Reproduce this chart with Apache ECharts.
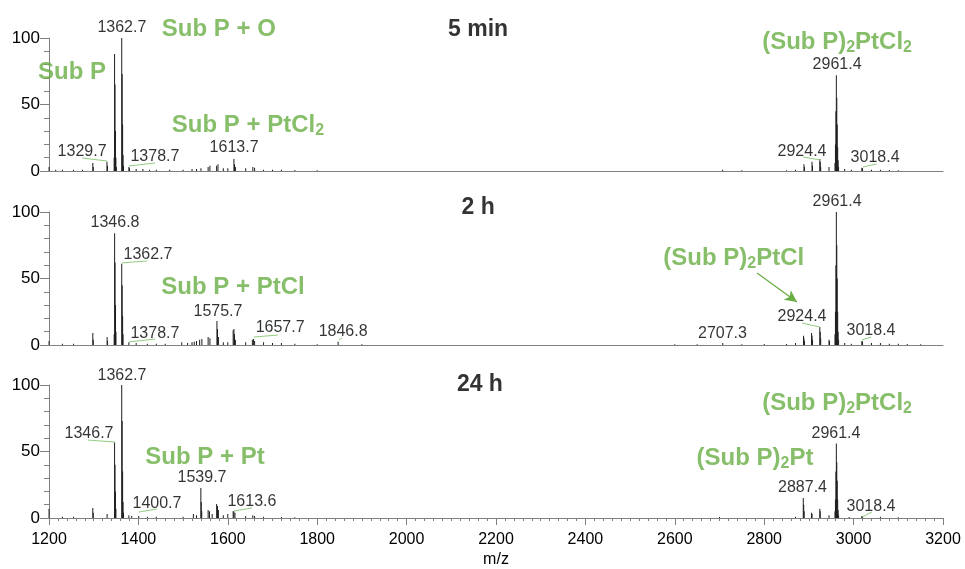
<!DOCTYPE html>
<html><head><meta charset="utf-8">
<script src="https://cdn.jsdelivr.net/npm/echarts@6/dist/echarts.min.js"></script>
<style>html,body{margin:0;padding:0;background:#fff}#c{width:965px;height:569px}</style>
</head><body><div id="c"></div>
<script>
// ---------- data ----------
const mzRange = [1200, 3200];
const mzTickStep = 200;
const intensityRange = [0, 100];
const intensityTickStep = 50;
const axisName = 'm/z';
const panelTitles = ['5 min', '2 h', '24 h'];

// [m/z, relative intensity %]
const peaks5min = [
  [1200,3],[1215,1],[1230,1],[1255,1],[1275,1],
  [1298,6],[1299,3],[1329.7,7],[1330.7,4],
  [1345.7,10],[1346.7,88],[1347.7,65],[1348.7,30],[1349.7,10],[1350.7,3],
  [1362.7,100],[1363.7,73],[1364.7,35],[1365.7,12],[1366.7,4],
  [1378.7,3],[1380,2],[1395,1.5],[1410,1.5],[1425,1],[1440,1],[1470,1],[1500,1],
  [1520,1.5],[1530,1.5],[1540,2],[1556,3],[1560,4],[1575,4],[1578,5],[1590,2],[1600,2],
  [1613.7,9],[1615,5],[1617,3],[1640,2],[1656,3],[1660,2.5],[1680,1],[1700,1],[1720,1],[1750,0.8],[1800,0.5],
  [2707,1],[2750,0.5],[2850,0.5],[2870,1],
  [2889,5],[2890,3],[2907,7],[2908,4],[2924.4,9],[2925.4,7],[2926.4,3],[2945,3],
  [2958.4,6],[2959.4,20],[2960.4,45],[2961.4,72],[2962.4,55],[2963.4,35],[2964.4,18],[2965.4,8],[2966.4,3],
  [2980,1.5],[2995,1],[3018.4,2.5],[3020,2],[3040,1],[3060,1],[3080,0.8],[3100,0.5]
];
const peaks2h = [
  [1200,3],[1230,1],[1255,1],[1298,9],[1299,4],[1330,6],[1331,3],
  [1345.8,8],[1346.8,84],[1347.8,62],[1348.8,30],[1349.8,10],
  [1362.7,61],[1363.7,45],[1364.7,22],[1365.7,8],
  [1378.7,2],[1395,1.5],[1420,1],[1440,1],[1460,1],[1497,2],[1510,1.5],[1520,2],[1525,2.5],[1530,3],
  [1537,4],[1542,4.5],[1556,6],[1560,5],[1575.7,18],[1577,12],[1579,6],[1590,2],[1600,2],
  [1612,11],[1613.7,12],[1615,8],[1617,4],[1640,2],[1655,4],[1657.7,4.5],[1660,3],[1680,2],
  [1700,1.5],[1720,1.5],[1750,1],[1800,0.5],[1846.8,2.5],[1900,0.5],
  [2600,0.5],[2650,0.5],[2707.3,1.5],[2750,0.5],[2800,0.8],[2850,0.8],[2870,1.5],
  [2888,7],[2889,5],[2890,3],[2906,9],[2907,7],[2908,4],[2924.4,13.5],[2925.4,10],[2926.4,5],[2945,4],[2946,3],
  [2958.4,8],[2959.4,25],[2960.4,60],[2961.4,100],[2962.4,75],[2963.4,50],[2964.4,25],[2965.4,10],[2966.4,4],
  [2980,1.5],[2995,1],[3018.4,3],[3020,2.5],[3040,1.5],[3060,1.5],[3080,1],[3100,1],[3120,0.8],[3150,0.5]
];
const peaks24h = [
  [1200,7],[1230,1],[1255,1],[1298,7.5],[1299,4],[1330,3],
  [1346.7,57],[1347.7,40],[1348.7,20],[1349.7,7],
  [1362.7,100],[1363.7,73],[1364.7,35],[1365.7,12],[1366.7,4],
  [1378.7,2],[1385,1.5],[1400.7,1.5],[1420,1],[1440,1],[1500,1],[1523,3],[1530,2],
  [1539.7,22.5],[1540.7,12],[1541.7,5],[1556,6],[1559,5],[1565,3],[1575,10.5],[1577,9],[1579,6],
  [1590,2],[1600,3],[1612,5],[1613.6,5],[1616,4],[1640,1.5],[1656,2],[1660,1.5],[1680,1],[1720,0.8],[1750,0.5],
  [2700,0.8],[2870,1],[2887.4,15],[2888.4,10],[2889.4,5],[2906,4],[2907,3],[2924.4,7],[2925.4,5],[2945,2],
  [2958.4,5],[2959.4,14],[2960.4,35],[2961.4,56],[2962.4,42],[2963.4,28],[2964.4,14],[2965.4,6],[2966.4,2],
  [2990,0.8],[3018.4,1.5],[3020,1.2],[3060,1],[3100,0.5]
];
const spectra = [peaks5min, peaks2h, peaks24h];

// annotation texts (species use ~2~ for subscripts)
const peakLabels5min = ['1362.7','1329.7','1378.7','1613.7','2961.4','2924.4','3018.4'];
const speciesLabels5min = ['Sub P + O','Sub P','Sub P + PtCl~2~','(Sub P)~2~PtCl~2~'];
const peakLabels2h = ['1346.8','1362.7','1575.7','1378.7','1657.7','1846.8','2707.3','2924.4','2961.4','3018.4'];
const speciesLabels2h = ['Sub P + PtCl','(Sub P)~2~PtCl'];
const peakLabels24h = ['1362.7','1346.7','1539.7','1400.7','1613.6','2961.4','2887.4','3018.4'];
const speciesLabels24h = ['Sub P + Pt','(Sub P)~2~PtCl~2~','(Sub P)~2~Pt'];

// ---------- layout of annotations (data coordinates) ----------
const GREEN = '#69ae45';
const LEADER = '#93cc80';
const FONT = '"Liberation Sans", Arial, Helvetica, sans-serif';

const annLayout = [
  [
    {t:panelTitles[0], k:'title', at:[2160,106]},
    {t:peakLabels5min[0], k:'peak', at:[1363,107.5]},
    {t:speciesLabels5min[0], k:'species', at:[1580,106.8]},
    {t:speciesLabels5min[1], k:'species', at:[1251.5,74.4]},
    {t:speciesLabels5min[2], k:'species', at:[1645,34.6]},
    {t:peakLabels5min[1], k:'peak', at:[1274,14.3], leader:[[1274,9.8],[1329.8,7.5]]},
    {t:peakLabels5min[2], k:'peak', at:[1437,10.5], leader:[[1379,3.8],[1437,6.0]]},
    {t:peakLabels5min[3], k:'peak', at:[1614,17.3]},
    {t:speciesLabels5min[3], k:'species', at:[2963,97]},
    {t:peakLabels5min[4], k:'peak', at:[2963,79.7]},
    {t:peakLabels5min[5], k:'peak', at:[2884.6,14.3], leader:[[2886.8,10.5],[2924.8,8.3]]},
    {t:peakLabels5min[6], k:'peak', at:[3048,9.8], leader:[[3021,3.0],[3052,5.3]]}
  ],
  [
    {t:panelTitles[1], k:'title', at:[2160,103]},
    {t:peakLabels2h[0], k:'peak', at:[1347.7,91.7]},
    {t:peakLabels2h[1], k:'peak', at:[1421.5,67.7], leader:[[1363.3,61.7],[1419,63.2]]},
    {t:speciesLabels2h[0], k:'species', at:[1611.6,43.6]},
    {t:peakLabels2h[2], k:'peak', at:[1578,24.8]},
    {t:peakLabels2h[3], k:'peak', at:[1437,8.3], leader:[[1379,2.3],[1437,4.5]]},
    {t:peakLabels2h[4], k:'peak', at:[1717,12.8], leader:[[1658.6,6.0],[1712,7.5]]},
    {t:peakLabels2h[5], k:'peak', at:[1858,9.8], leader:[[1849,3.8],[1855.5,5.3]]},
    {t:peakLabels2h[6], k:'peak', at:[2706.7,8.3]},
    {t:peakLabels2h[7], k:'peak', at:[2884.6,21.1], leader:[[2884.6,16.5],[2924.8,13.5]]},
    {t:peakLabels2h[8], k:'peak', at:[2963,107.5]},
    {t:peakLabels2h[9], k:'peak', at:[3039,10.5], leader:[[3019,3.8],[3039,6.0]]},
    {t:speciesLabels2h[1], k:'species', at:[2732,65.4], arrow:[[2784,54.1],[2873.4,32.3]]}
  ],
  [
    {t:panelTitles[2], k:'title', at:[2164,100]},
    {t:peakLabels24h[0], k:'peak', at:[1363.3,106.8]},
    {t:peakLabels24h[1], k:'peak', at:[1289.5,63.2], leader:[[1287.2,58.6],[1347.7,57.1]]},
    {t:speciesLabels24h[0], k:'species', at:[1549,45.9]},
    {t:peakLabels24h[2], k:'peak', at:[1542.3,30.1]},
    {t:peakLabels24h[3], k:'peak', at:[1441.6,10.5], leader:[[1401.3,4.5],[1441.6,6.8]]},
    {t:peakLabels24h[4], k:'peak', at:[1654,12.0], leader:[[1614,5.3],[1654,7.5]]},
    {t:speciesLabels24h[1], k:'species', at:[2963,86.5]},
    {t:peakLabels24h[5], k:'peak', at:[2960.6,63.2]},
    {t:speciesLabels24h[2], k:'species', at:[2779.4,45.1]},
    {t:peakLabels24h[6], k:'peak', at:[2885.7,22.6]},
    {t:peakLabels24h[7], k:'peak', at:[3039,8.3], leader:[[3019,0.75],[3041,4.5]]}
  ]
];

// ---------- build option ----------
function richSpecies(s) {
  const parts = s.split('~');
  return parts.map((p, i) => p === '' ? '' : (i % 2 ? '{s|' + p + '}' : '{g|' + p + '}')).join('');
}
function labelFor(a) {
  if (a.k === 'peak') {
    return {show:true, position:'inside', formatter:a.t, color:'#000', fontSize:16, fontFamily:FONT};
  }
  if (a.k === 'title') {
    return {show:true, position:'inside', formatter:a.t, color:'#000', fontSize:23, fontWeight:'bold', fontFamily:FONT};
  }
  return {
    show:true, position:'inside', formatter:richSpecies(a.t),
    rich:{
      g:{fontSize:24, fontWeight:'bold', color:GREEN, fontFamily:FONT, lineHeight:26},
      s:{fontSize:16, fontWeight:'bold', color:GREEN, fontFamily:FONT, lineHeight:26, padding:[12,0,0,0]}
    }
  };
}

const gridTops = [38, 212, 385];
const grids = gridTops.map(t => ({left:49, width:894, top:t, height:133}));
const axisColor = '#808080';

const xAxes = gridTops.map((_, i) => {
  const bottom = i === 2;
  return {
    type:'value', gridIndex:i, min:mzRange[0], max:mzRange[1], interval:mzTickStep,
    name: bottom ? axisName : '', nameLocation:'middle', nameGap:34,
    nameTextStyle:{fontSize:16, color:'#000', fontFamily:FONT},
    axisLine:{show:true, onZero:false, lineStyle:{color:axisColor, width:1}},
    axisTick:{show:bottom, length:7, lineStyle:{color:axisColor}},
    minorTick:{show:bottom, splitNumber:10, length:3, lineStyle:{color:axisColor}},
    axisLabel:{show:bottom, fontSize:16, color:'#000', margin:14, fontFamily:FONT,
               formatter: v => String(v)},
    splitLine:{show:false}, minorSplitLine:{show:false}
  };
});
const yAxes = gridTops.map((_, i) => ({
  type:'value', gridIndex:i, min:intensityRange[0], max:intensityRange[1], interval:intensityTickStep,
  axisLine:{show:true, lineStyle:{color:axisColor, width:1}},
  axisTick:{show:true, length:9, lineStyle:{color:axisColor}},
  minorTick:{show:true, splitNumber:5, length:5, lineStyle:{color:axisColor}},
  axisLabel:{show:true, fontSize:17, color:'#000', margin:9, fontFamily:FONT,
             formatter: v => String(v)},
  splitLine:{show:false}, minorSplitLine:{show:false}
}));

const series = [];
spectra.forEach((peaks, i) => {
  series.push({
    type:'bar', xAxisIndex:i, yAxisIndex:i, data:peaks, barWidth:1,
    itemStyle:{color:'#1e1e1e'}, silent:true, animation:false
  });
  const anns = annLayout[i];
  const lines = [];
  anns.forEach(a => {
    if (a.leader) lines.push([{coord:a.leader[0]}, {coord:a.leader[1]}]);
    if (a.arrow) lines.push([
      {coord:a.arrow[0], symbol:'none', lineStyle:{color:GREEN, width:1.3, type:'solid'}},
      {coord:a.arrow[1], symbol:'arrow', symbolSize:[9,12], lineStyle:{color:GREEN, width:1.3, type:'solid'}}
    ]);
  });
  series.push({
    type:'scatter', xAxisIndex:i, yAxisIndex:i, clip:false, symbolSize:1,
    itemStyle:{color:'rgba(0,0,0,0)'}, silent:true, animation:false, z:5,
    data: anns.map(a => ({value:a.at, label:labelFor(a)})),
    markLine:{
      silent:true, animation:false, symbol:['none','none'],
      label:{show:false}, emphasis:{disabled:true},
      lineStyle:{color:LEADER, width:1, type:'solid'},
      data: lines
    }
  });
});

const chart = echarts.init(document.getElementById('c'), null, {renderer:'canvas'});
chart.setOption({
  animation:false,
  backgroundColor:'#fff',
  textStyle:{fontFamily:FONT},
  grid:grids, xAxis:xAxes, yAxis:yAxes, series:series
});
</script>
</body></html>
